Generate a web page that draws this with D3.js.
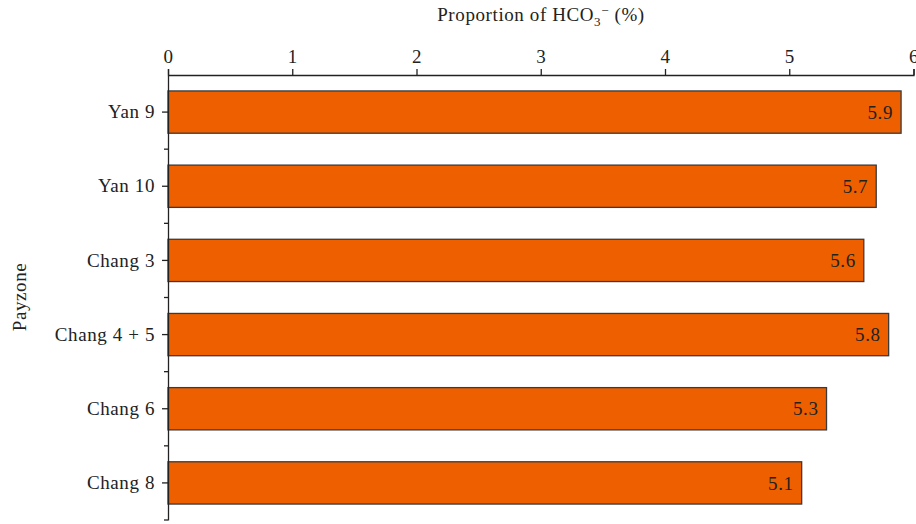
<!DOCTYPE html>
<html><head><meta charset="utf-8">
<script src="https://cdn.jsdelivr.net/npm/d3@7"></script>
<style>body{margin:0;background:#fff}svg{display:block}text{font-family:"Liberation Serif",serif;fill:#222;letter-spacing:0.6px}</style>
</head><body>
<svg id="c" width="916" height="524"></svg>
<script>
const categories = ["Yan 9","Yan 10","Chang 3","Chang 4 + 5","Chang 6","Chang 8"];
const values = [5.9,5.7,5.6,5.8,5.3,5.1];
const xTicks = [0,1,2,3,4,5,6];

const svg = d3.select("#c");
const fs = 19;
const x = d3.scaleLinear().domain([0,6]).range([168,913.5]);
const y = d3.scaleBand().domain(categories).range([75,520]).paddingInner(0.43).paddingOuter(0.215);

// bars
svg.append("g").selectAll("rect").data(values).join("rect")
  .attr("x", x(0)).attr("y",(d,i)=>y(categories[i]))
  .attr("width", d=>x(d)-x(0)).attr("height", y.bandwidth())
  .attr("fill","#EE5F00").attr("stroke","#3a3a3a").attr("stroke-width",1.3);

svg.append("g").selectAll("text").data(values).join("text")
  .attr("x", d=>x(d)-8).attr("y",(d,i)=>y(categories[i])+y.bandwidth()/2)
  .attr("dy","0.35em").attr("text-anchor","end").attr("font-size",fs)
  .text(d=>d.toFixed(1));

// top axis
const xa = svg.append("g").attr("transform","translate(0,75)")
  .call(d3.axisTop(x).tickValues(xTicks).tickFormat(d3.format("d")).tickSize(6).tickPadding(6));
xa.select(".domain").attr("stroke","#222").attr("stroke-width",1.3);
xa.selectAll(".tick line").attr("stroke","#222").attr("stroke-width",1.3);
xa.selectAll(".tick text").attr("font-size",fs).attr("font-family","Liberation Serif").attr("fill","#222");

// left axis
const ya = svg.append("g").attr("transform","translate(168,0)")
  .call(d3.axisLeft(y).tickSize(6).tickPadding(7).tickSizeOuter(0));
ya.select(".domain").attr("stroke","#222").attr("stroke-width",1.3);
ya.selectAll(".tick line").attr("stroke","#222").attr("stroke-width",1.3);
ya.selectAll(".tick text").attr("font-size",fs).attr("font-family","Liberation Serif").attr("fill","#222");
// minor ticks at band boundaries
const bounds = categories.map(c=>y(c)-y.step()*y.paddingInner()/2).concat([y(categories[categories.length-1])+y.bandwidth()+y.step()*y.paddingInner()/2]);
ya.selectAll("line.minor").data(bounds.slice(1)).join("line").attr("class","minor")
  .attr("x1",-4).attr("x2",0).attr("y1",d=>d).attr("y2",d=>d)
  .attr("stroke","#222").attr("stroke-width",1.3);

// title
const t = svg.append("text").attr("x",541).attr("y",21).attr("text-anchor","middle").attr("font-size",fs);
t.append("tspan").text("Proportion of HCO");
t.append("tspan").attr("font-size",13).attr("dy",5).text("3");
t.append("tspan").attr("font-size",13).attr("dy",-11).text("−");
t.append("tspan").attr("dy",6).text(" (%)");

svg.append("text").attr("transform","translate(26,297) rotate(-90)")
  .attr("text-anchor","middle").attr("font-size",fs).text("Payzone");
</script>
</body></html>
